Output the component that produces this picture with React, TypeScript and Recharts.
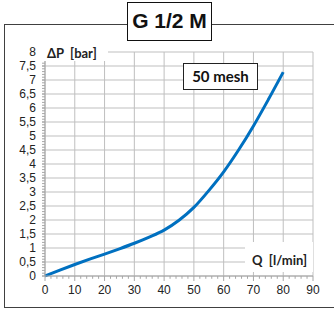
import React from 'react';
import { LineChart, Line, XAxis, YAxis, CartesianGrid, ReferenceLine } from 'recharts';

const flowValues = [0, 5, 10, 15, 20, 25, 30, 35, 40, 45, 50, 55, 60, 65, 70, 75, 80];
const pressureValues = [0, 0.21, 0.41, 0.6, 0.78, 0.97, 1.17, 1.39, 1.64, 1.99, 2.45, 3.05, 3.72, 4.5, 5.36, 6.3, 7.28];
const xTicks = [0, 10, 20, 30, 40, 50, 60, 70, 80, 90];
const yTicks = [0, 0.5, 1, 1.5, 2, 2.5, 3, 3.5, 4, 4.5, 5, 5.5, 6, 6.5, 7, 7.5, 8];
const xMinorTicks = [2, 4, 6, 8, 12, 14, 16, 18, 22, 24, 26, 28, 32, 34, 36, 38, 42, 44, 46, 48, 52, 54, 56, 58, 62, 64, 66, 68, 72, 74, 76, 78, 82, 84, 86, 88];
const yMinorTicks = Array.from({ length: 81 }, (_, i) => i / 10);

const title = 'G 1/2 M';
const meshLabel = '50 mesh';
const yLabel = 'ΔP  [bar]';
const xLabel = 'Q  [l/min]';

const data = flowValues.map((q, i) => ({ q, p: pressureValues[i] }));

const tickFont = "'Liberation Sans Narrow', 'Arial Narrow', 'Liberation Sans', Arial, sans-serif";
const labelFont = "Lato, 'Open Sans', sans-serif";

export default function App() {
  return (
    <div style={{ position: 'absolute', left: 0, top: 0, width: 334, height: 311, background: '#fff' }}>
      {/* outer frame */}
      <div style={{ position: 'absolute', left: 4, top: 24, width: 340, height: 284, borderLeft: '1.5px solid #404040', borderTop: '1.5px solid #404040', borderBottom: '1.5px solid #404040', boxSizing: 'border-box' }} />
      <div style={{ position: 'absolute', left: 0, top: 0 }}>
        <LineChart width={334} height={311} data={data} margin={{ top: 52, right: 21, left: 5, bottom: 5 }}>
          <CartesianGrid stroke="#bfbfbf" strokeWidth={1} />
          <XAxis
            dataKey="q"
            type="number"
            domain={[0, 90]}
            ticks={xTicks}
            height={30}
            tickSize={5}
            tickMargin={4}
            stroke="#a6a6a6"
            tick={{ fill: '#222', fontSize: 12, fontFamily: tickFont }}
            interval={0}
          />
          <YAxis
            type="number"
            domain={[0, 8]}
            ticks={yTicks}
            width={40}
            tickSize={3}
            tickMargin={6}
            stroke="#a6a6a6"
            interval={0}
            tickFormatter={(v: number) => String(v).replace('.', ',')}
            tick={{ fill: '#222', fontSize: 12, fontFamily: tickFont }}
          />
          {xMinorTicks.map((v) => (
            <ReferenceLine key={'x' + v} segment={[{ x: v, y: 0 }, { x: v, y: -0.1 }]} stroke="#a6a6a6" ifOverflow="visible" />
          ))}
          {yMinorTicks.map((v) => (
            <ReferenceLine key={'y' + v} segment={[{ x: -1, y: v }, { x: 0, y: v }]} stroke="#a6a6a6" ifOverflow="visible" />
          ))}
          <Line
            type="monotone"
            dataKey="p"
            stroke="#0070c0"
            strokeWidth={3}
            dot={false}
            isAnimationActive={false}
          />
        </LineChart>
      </div>
      {/* y axis label */}
      <div style={{ position: 'absolute', left: 40, top: 45, width: 68, height: 16, background: '#fff', fontFamily: labelFont, fontWeight: 700, fontSize: 13, lineHeight: '16px', color: '#222', paddingLeft: 7, boxSizing: 'border-box', whiteSpace: 'pre' }}>
        {yLabel}
      </div>
      {/* x axis label */}
      <div style={{ position: 'absolute', left: 245, top: 242, width: 68, height: 30, background: '#fff', fontFamily: labelFont, fontWeight: 700, fontSize: 13, lineHeight: '36px', color: '#222', paddingLeft: 7, boxSizing: 'border-box', whiteSpace: 'pre' }}>
        {xLabel}
      </div>
      {/* mesh box */}
      <div style={{ position: 'absolute', left: 183, top: 63, width: 75, height: 27, background: '#fff', border: '1px solid #222', boxSizing: 'border-box', fontFamily: labelFont, fontWeight: 700, fontSize: 15, lineHeight: '25px', textAlign: 'center', color: '#111' }}>
        {meshLabel}
      </div>
      {/* title box */}
      <div style={{ position: 'absolute', left: 127, top: 2, width: 85, height: 39, background: '#fff', border: '1.5px solid #111', boxSizing: 'border-box', fontFamily: "'Liberation Sans', Arial, sans-serif", fontWeight: 700, fontSize: 21, lineHeight: '36px', textAlign: 'center', color: '#111' }}>
        {title}
      </div>
    </div>
  );
}
